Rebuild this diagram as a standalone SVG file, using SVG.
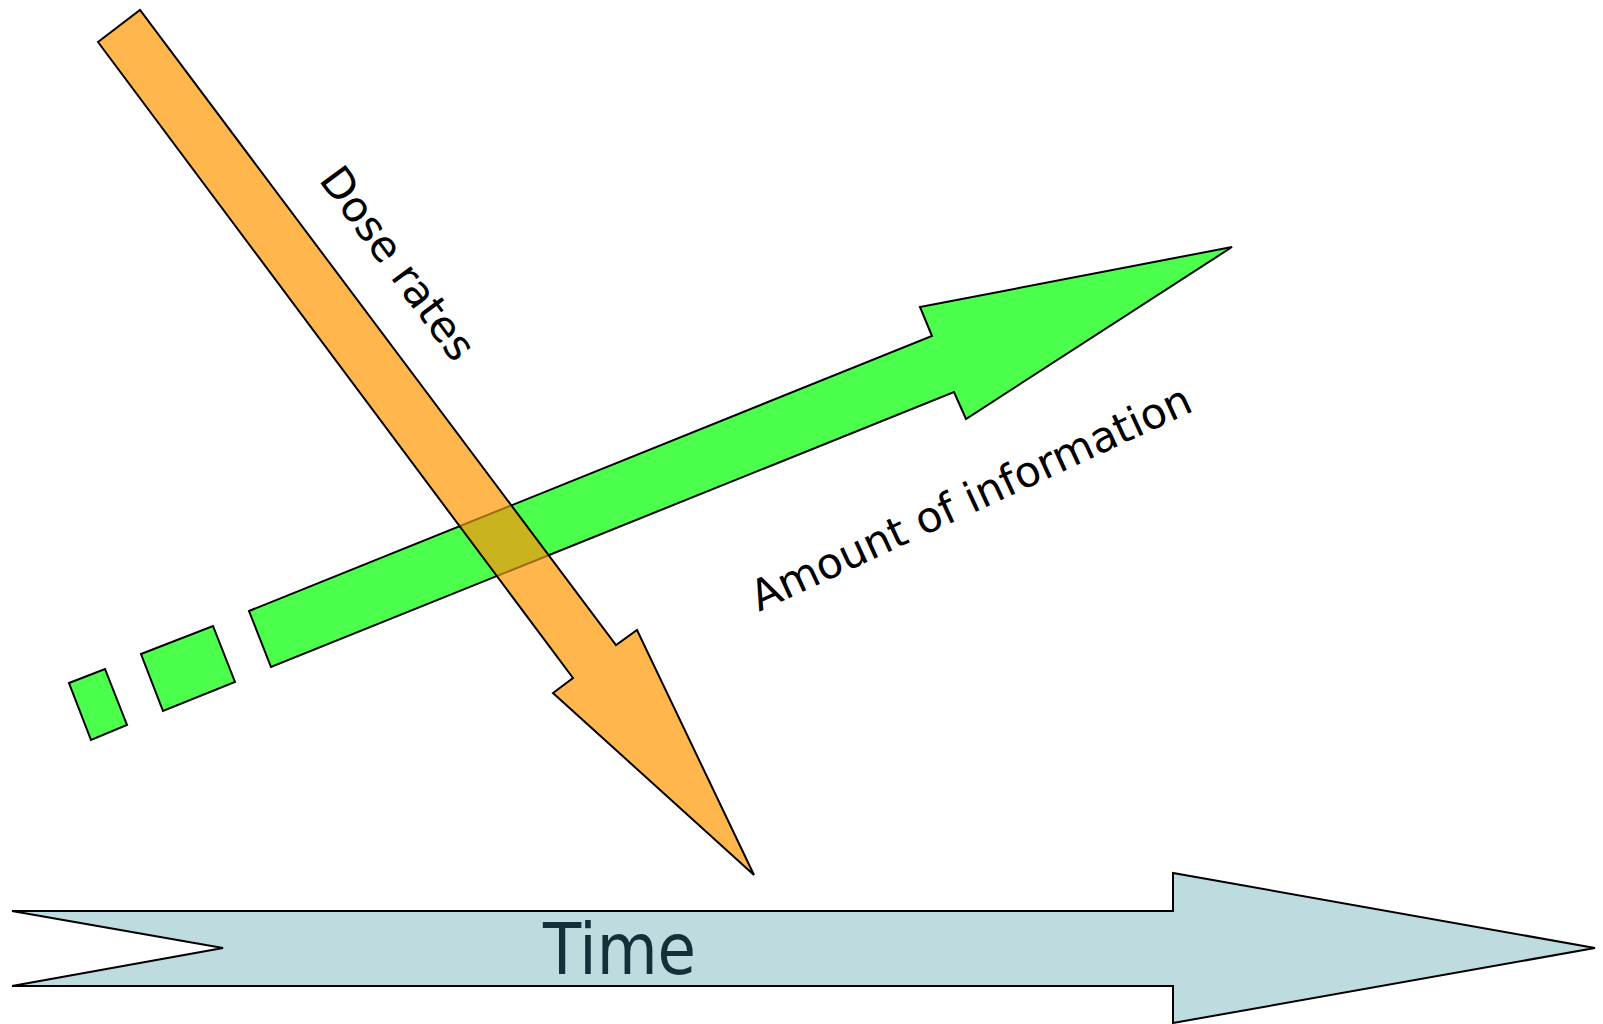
<svg xmlns="http://www.w3.org/2000/svg" width="1603" height="1024" viewBox="0 0 1603 1024">
  <style>
    .shape { stroke: #000; stroke-width: 2; stroke-linejoin: miter; }
    .green { fill: #4DFF4D; }
    .orange { fill: #FFB74D; }
    .blue { fill: #BEDBE0; stroke: #000; stroke-width: 2; }
    .label { font-family: "DejaVu Sans", Verdana, sans-serif; font-size: 42.5px; fill: #000; }
  </style>
  <defs>
    <polygon id="greenArrowShape" points="249,611 932,336 920,307 1232,247 966,419 954,392 271,667"/>
    <polygon id="orangeArrowShape" points="98,42 140,10 616,645 637,630 754,875 553,693 573,678"/>
    <clipPath id="clipGreen"><use href="#greenArrowShape"/></clipPath>
    <clipPath id="clipOrange"><use href="#orangeArrowShape"/></clipPath>
  </defs>
  <rect width="1603" height="1024" fill="#fff"/>

  <g id="time-arrow">
    <polygon class="blue" points="12,911 1173,911 1173,873 1595,948 1173,1023 1173,986 12,986 223,948"/>
    <text x="543" y="974" font-family="DejaVu Sans, Verdana, sans-serif" font-size="71" fill="#13303A" textLength="153" lengthAdjust="spacingAndGlyphs">Time</text>
  </g>

  <g id="information-arrow">
    <polygon class="shape green" points="69,683 105,669 127,725 91,740"/>
    <polygon class="shape green" points="141,654 213,626 235,682 163,711"/>
    <use href="#greenArrowShape" class="shape green"/>
    <text class="label" transform="translate(759,612) rotate(-24.8)">Amount of information</text>
  </g>

  <g id="dose-arrow">
    <use href="#orangeArrowShape" class="orange"/>
    <use href="#orangeArrowShape" fill="#C9B31E" clip-path="url(#clipGreen)"/>
    <use href="#greenArrowShape" fill="none" stroke="#A06A14" stroke-width="2" clip-path="url(#clipOrange)"/>
    <use href="#orangeArrowShape" fill="none" stroke="#000" stroke-width="2"/>
    <text class="label" transform="translate(318,180) rotate(53.5)">Dose rates</text>
  </g>

  <g id="connectors"></g>
</svg>
